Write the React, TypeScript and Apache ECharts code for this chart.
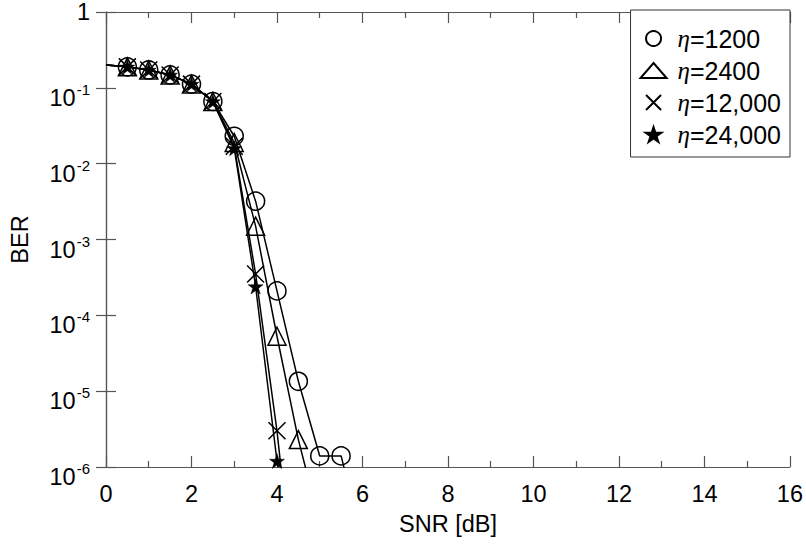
import React, { useEffect, useRef } from "react";
import * as echarts from "echarts";

const seriesNames = ["η=1200", "η=2400", "η=12,000", "η=24,000"];
const etaValues = ["1200", "2400", "12,000", "24,000"];

// [SNR dB, BER]; first and last points of each curve are line-only (no marker)
const snrCommon = [0, 0.5, 1, 1.5, 2, 2.5];
const berCommon = [0.2, 0.189, 0.172, 0.148, 0.112, 0.066];

const snr1200 = [3, 3.5, 4, 4.5, 5, 5.5, 5.7];
const ber1200 = [0.023, 3.2e-3, 2.1e-4, 1.35e-5, 1.4e-6, 1.4e-6, 5e-7];

const snr2400 = [3, 3.5, 4, 4.5, 4.8];
const ber2400 = [0.019, 1.5e-3, 5.3e-5, 2.3e-6, 5e-7];

const snr12000 = [3, 3.5, 4, 4.15];
const ber12000 = [0.017, 3.5e-4, 3.0e-6, 5e-7];

const snr24000 = [3, 3.5, 4, 4.1];
const ber24000 = [0.016, 2.4e-4, 1.2e-6, 5e-7];

const xTicks = [0, 2, 4, 6, 8, 10, 12, 14, 16];

const CROSS = "path://M0,0L10,10M10,0L0,10";
const STAR =
  "path://M50,0L61.8,36.3L100,36.3L69.1,58.8L80.9,95.1L50,72.6L19.1,95.1L30.9,58.8L0,36.3L38.2,36.3Z";

function build(snrTail: number[], berTail: number[]) {
  const pts: any[] = [];
  snrCommon.forEach((x, i) => {
    pts.push(i === 0 ? { value: [x, berCommon[i]], symbol: "none" } : [x, berCommon[i]]);
  });
  snrTail.forEach((x, i) => {
    const last = i === snrTail.length - 1;
    pts.push(last ? { value: [x, berTail[i]], symbol: "none" } : [x, berTail[i]]);
  });
  return pts;
}

const FONT = "Liberation Sans, Arial, sans-serif";

export default function App() {
  const ref = useRef<HTMLDivElement>(null);
  useEffect(() => {
    if (!ref.current) return;
    const chart = echarts.init(ref.current, null, { renderer: "svg" });
    const symbols = ["circle", "triangle", CROSS, STAR];
    const sizes = [18, 18, 17, 15];
    const tails: [number[], number[]][] = [
      [snr1200, ber1200],
      [snr2400, ber2400],
      [snr12000, ber12000],
      [snr24000, ber24000],
    ];
    const series = seriesNames.map((name, i) => ({
      name,
      type: "line",
      data: build(tails[i][0], tails[i][1]),
      symbol: symbols[i],
      symbolSize: sizes[i],
      showAllSymbol: true,
      clip: true,
      lineStyle: { color: "#000", width: 1.5 },
      itemStyle:
        i === 3
          ? { color: "#000", borderColor: "#000", borderWidth: 0.5 }
          : { color: "rgba(0,0,0,0)", borderColor: "#000", borderWidth: 1.5 },
      emphasis: { disabled: true },
      z: 2 + i,
    }));

    const axisLine = { show: true, lineStyle: { color: "#555", width: 1.2 } };
    const tickStyle = { color: "#555", width: 1.2 };

    chart.setOption({
      animation: false,
      backgroundColor: "#fff",
      textStyle: { fontFamily: FONT },
      grid: { left: 104, top: 10, right: 16, bottom: 82, containLabel: false },
      legend: {
        orient: "vertical",
        right: 16,
        top: 10,
        backgroundColor: "#fff",
        borderColor: "#333",
        borderWidth: 1,
        borderRadius: 0,
        padding: [16, 9, 10, 9],
        itemWidth: 26,
        itemHeight: 15,
        itemGap: 7,
        selectedMode: false,
        data: seriesNames.map((n, i) => ({ name: n, icon: symbols[i] })),
        formatter: (n: string) => {
          const i = seriesNames.indexOf(n);
          return `{e|η}{t|=${etaValues[i]}}`;
        },
        textStyle: {
          color: "#000",
          fontSize: 25,
          lineHeight: 24,
          rich: {
            e: {
              fontFamily: "Liberation Serif, serif",
              fontStyle: "italic",
              fontSize: 25,
              lineHeight: 24,
              color: "#000",
              padding: [0, 0, 0, 6],
            },
            t: { fontFamily: FONT, fontSize: 25, lineHeight: 24, color: "#000" },
          },
        },
      },
      xAxis: [
        {
          type: "value",
          min: 0,
          max: 16,
          interval: 2,
          name: "SNR [dB]",
          nameLocation: "middle",
          nameGap: 45,
          nameTextStyle: { fontSize: 23.5, color: "#000", fontFamily: FONT },
          axisLine,
          axisTick: { show: true, inside: true, length: 11, lineStyle: tickStyle },
          minorTick: { show: true, splitNumber: 2, length: 6, lineStyle: tickStyle },
          axisLabel: {
            fontSize: 23.5,
            color: "#000",
            margin: 15,
            fontFamily: FONT,
            formatter: (v: number) => (xTicks.includes(v) ? String(v) : ""),
          },
          splitLine: { show: false },
        },
        {
          type: "value",
          position: "top",
          min: 0,
          max: 16,
          interval: 2,
          axisLine,
          axisTick: { show: true, inside: true, length: 11, lineStyle: tickStyle },
          minorTick: { show: true, splitNumber: 2, length: 6, lineStyle: tickStyle },
          axisLabel: { show: false },
          splitLine: { show: false },
        },
      ],
      yAxis: [
        {
          type: "log",
          logBase: 10,
          min: 1e-6,
          max: 1,
          interval: 1,
          name: "BER",
          nameLocation: "middle",
          nameGap: 74,
          nameRotate: 90,
          nameTextStyle: { fontSize: 23.5, color: "#000", fontFamily: FONT },
          axisLine,
          axisTick: { show: true, inside: true, length: 10, lineStyle: tickStyle },
          axisLabel: {
            color: "#000",
            fontSize: 23.5,
            margin: 16,
            fontFamily: FONT,
            formatter: (v: number) => {
              const e = Math.round(Math.log10(v));
              if (e === 0) return "{o|1}";
              return `{b|10}{s|${e}}`;
            },
            rich: {
              o: { fontSize: 23.5, fontFamily: FONT, color: "#000", lineHeight: 26 },
              b: {
                fontSize: 23.5,
                fontFamily: FONT,
                color: "#000",
                lineHeight: 24,
                padding: [10, 0, 0, 0],
                verticalAlign: "top",
              },
              s: {
                fontSize: 15,
                fontFamily: FONT,
                color: "#000",
                lineHeight: 18,
                padding: [6, 0, 0, 1],
                verticalAlign: "top",
              },
            },
          },
          splitLine: { show: false },
        },
        {
          type: "log",
          logBase: 10,
          min: 1e-6,
          max: 1,
          interval: 1,
          position: "right",
          axisLine,
          axisTick: { show: true, inside: true, length: 10, lineStyle: tickStyle },
          axisLabel: { show: false },
          splitLine: { show: false },
        },
      ],
      series,
    });
    return () => chart.dispose();
  }, []);
  return <div ref={ref} style={{ width: 806, height: 549, position: "absolute", left: 0, top: 0 }} />;
}
